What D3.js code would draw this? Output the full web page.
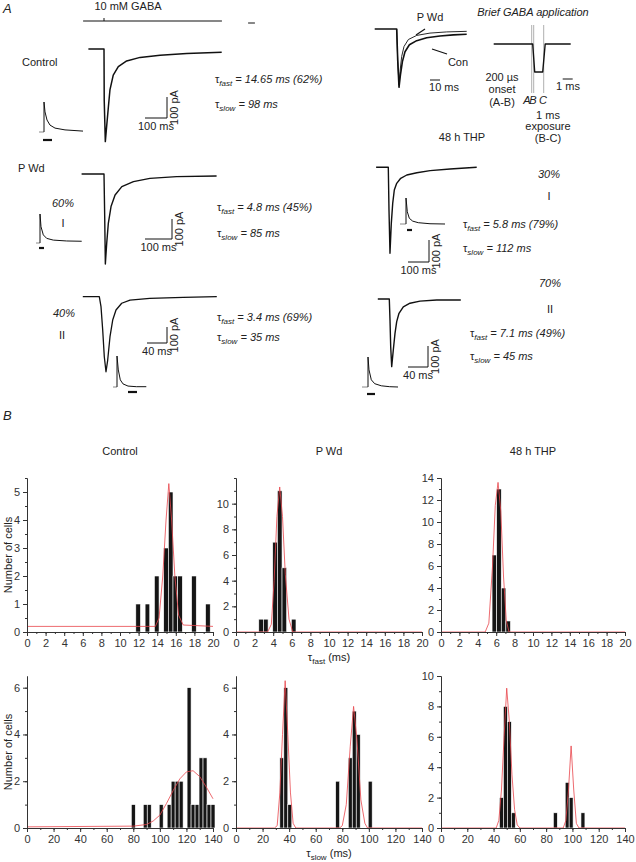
<!DOCTYPE html>
<html>
<head>
<meta charset="utf-8">
<script src="https://cdn.jsdelivr.net/npm/d3@7"></script>
<style>
body { margin: 0; background: #fff; }
text { font-family: "Liberation Sans", Arial, sans-serif; fill: #222; }
</style>
</head>
<body>
<div id="fig"></div>
<script>
// ---------- data: panel A (time ms, current pA) ----------
var conTrace   = [[-71,0],[0,0],[1,-243],[6,-441],[12,-369],[20,-275],[27,-195],[42,-124],[65,-84],[103,-57],[164,-40],[255,-30],[376,-22],[535,-16]];
var pwd1Trace  = [[-83,0],[0,0],[2.6,-213],[5,-450],[10,-347],[16,-247],[26,-163],[41,-105],[66,-63],[109,-38],[170,-22],[269,-13],[417,-10]];
var pwd2Trace  = [[-33,0],[0,0],[3.4,-62],[6.8,-208],[10,-375],[13.4,-469],[16.8,-396],[21.4,-250],[26.8,-146],[33.4,-83],[44.8,-41],[61.4,-21],[101,-11],[168,-4],[235,0]];
var thp1Trace  = [[-58,0],[0,0],[3.3,-194],[8,-391],[14.3,-255],[21,-164],[28.6,-103],[40,-73],[59,-50],[88,-35],[136,-25],[199,-15],[294,-8],[421,0]];
var thp2Trace  = [[-23,0],[0,0],[1.4,-100],[2.8,-227],[4.8,-322],[8,-243],[11.4,-164],[14.8,-108],[19.4,-68],[28,-37],[41.4,-20],[61.4,-10],[94.8,-5],[143,-5]];
// normalised overlay (Con vs P Wd), time ms
var overlayCon = [[-22,0],[0,0],[1,-0.53],[2.3,-1],[3.7,-0.79],[5.7,-0.56],[8.3,-0.39],[12.7,-0.27],[20,-0.2],[30,-0.15],[43.3,-0.12],[56.7,-0.1],[70,-0.09]];
var overlayPwd = [[0,0],[1,-0.53],[2.3,-0.96],[3.3,-0.73],[5,-0.47],[7.3,-0.3],[11.7,-0.18],[20,-0.11],[33.3,-0.07],[50,-0.05],[70,-0.04]];
// brief GABA application pulse (ms, normalised)
var pulseTrace = [[-3.8,0],[0.1,0],[0.3,-1],[1.1,-1],[1.35,0],[3.9,0]];
var pulseMarks = [["A",0],["B",0.2],["C",1.2]];
// normalised insets (ms, fraction of peak)
var insetCon  = [[-10,0],[0,0],[0,1],[2,0.67],[6,0.4],[12,0.23],[22,0.13],[42,0.07],[78,0.03]];
var insetPwd1 = [[-8,0],[0,0],[0,1],[2,0.56],[6.6,0.28],[13.4,0.16],[26.6,0.1],[53.4,0.07],[83.4,0.06]];
var insetPwd2 = [[-8,0],[0,0],[0,1],[2.6,0.55],[6.6,0.23],[12,0.1],[22,0.03],[38.6,0.01],[58.6,0.01]];
var insetThp1 = [[-12,0],[0,0],[0,1],[2.6,0.47],[6.6,0.22],[13.4,0.11],[24.6,0.05],[48,0.01],[78,0]];
var insetThp2 = [[-12,0],[0,0],[0,1],[2,0.57],[6.6,0.24],[13.4,0.11],[26.6,0.04],[43.4,0.01],[60,0]];

// ---------- data: panel B histograms ----------
var fastTicks = [0,2,4,6,8,10,12,14,16,18,20];
var slowTicks = [0,20,40,60,80,100,120,140];
var ctlFastBins = [11.7,12.7,13.7,14.7,15.2,15.7,16.2,17.7,19.2];
var ctlFastCounts = [1,1,2,3,5,2,2,2,1];
var pwdFastBins = [2.45,2.95,3.95,4.45,4.95,5.95];
var pwdFastCounts = [1,1,7,11,5,1];
var thpFastBins = [5.55,6.05,6.55,7.05];
var thpFastCounts = [7,13,4,1];
var ctlSlowBins = [78.5,87.5,90.5,99.5,105.5,108.5,111.5,114.5,120.5,123.5,126.5,129.5,132.5,135.5,138.5];
var ctlSlowCounts = [1,1,1,1,1,2,2,2,6,1,1,3,3,1,1];
var pwdSlowBins = [33,36,39,75,84.5,87.5,90.5,99.5];
var pwdSlowCounts = [3,6,1,2,3,5,4,2];
var thpSlowBins = [44.5,47.5,50.5,53.5,85.5,94.5,97.5,106.5];
var thpSlowCounts = [2,8,7,1,1,3,2,1];
// gaussian fits
var ctlFastFit = [[0,0.2],[13.8,0.2],[14.2,0.5],[14.6,2],[14.95,4],[15.25,5.3],[15.55,4],[15.9,2],[16.3,0.6],[16.8,0.25],[20,0.2]];
var pwdFastFit = [[0,0],[3.4,0],[3.8,0.6],[4.1,4],[4.4,9],[4.7,11.3],[5,9],[5.3,4.5],[5.7,1],[6.1,0],[20,0]];
var thpFastFit = [[0,0],[4.8,0],[5.2,0.8],[5.6,6],[5.9,11.5],[6.2,13.6],[6.5,11],[6.8,5],[7.1,1],[7.4,0],[20,0]];
var ctlSlowFit = [[0,0.05],[80,0.08],[90,0.15],[95,0.3],[100,0.55],[105,1.05],[110,1.6],[115,2.1],[120,2.4],[125,2.45],[130,2.2],[135,1.75],[140,1.25]];
var pwdSlowFit = [[0,0],[29,0],[31,0.1],[33,1.5],[35,4],[37,6.3],[39,4],[41,1.5],[43,0.2],[45,0],[78,0],[80,0.1],[83,1],[86,3.5],[88.5,5.2],[91,3.8],[94,1.2],[97,0.2],[99,0],[140,0]];
var thpSlowFit = [[0,0],[42,0],[44,0.5],[46,2.5],[48,6],[50,9.2],[52,7],[54,3.5],[56,1.2],[58,0.2],[60,0],[93,0],[95,0.5],[97,2.5],[99,5.4],[101,2.5],[103,0.3],[105,0],[140,0]];

// ---------- svg ----------
var W = 636, H = 862;
var svg = d3.select("#fig").append("svg").attr("width", W).attr("height", H);
svg.append("rect").attr("width", W).attr("height", H).attr("fill", "#fff");

function lin(o, k) { return d3.scaleLinear().domain([0, 1]).range([o, o + k]); }

function label(x, y, str, opts) {
  opts = opts || {};
  var t = svg.append("text").attr("x", x).attr("y", y)
    .attr("font-size", opts.size || 11)
    .attr("text-anchor", opts.anchor || "start")
    .text(str);
  if (opts.italic) t.attr("font-style", "italic");
  return t;
}

function tauText(x, y, sub, rest) {
  var t = svg.append("text").attr("x", x).attr("y", y).attr("font-size", 11);
  t.append("tspan").text("\u03c4");
  t.append("tspan").attr("font-size", 8).attr("font-style", "italic").attr("dy", 3).text(sub);
  t.append("tspan").attr("font-style", "italic").attr("dy", -3).text(" = " + rest);
}

function drawLine(data, sx, sy, w, col) {
  svg.append("path").datum(data)
    .attr("fill", "none").attr("stroke", col || "#111").attr("stroke-width", w || 1.4)
    .attr("stroke-linejoin", "round")
    .attr("d", d3.line().x(function(d){ return sx(d[0]); }).y(function(d){ return sy(d[1]); }));
}

// scale bar: corner at (cx, cy), ms horizontal to the left, pA vertical upward
function scaleBar(sx, sy, cx, cy, ms, pA, msLabel) {
  var lx = sx(ms) - sx(0), ly = sy(0) - sy(pA);
  svg.append("path").attr("fill", "none").attr("stroke", "#111").attr("stroke-width", 1)
    .attr("d", "M" + (cx - lx) + "," + cy + "H" + cx + "V" + (cy - ly));
  label(cx - lx / 2, cy + 12, msLabel, {anchor: "middle"});
  svg.append("text").attr("transform", "translate(" + (cx + 11) + "," + (cy - ly / 2) + ") rotate(-90)")
    .attr("text-anchor", "middle").attr("font-size", 11).text(pA + " pA");
}

function inset(data, x0, y0, h, barStart, barLen, barY) {
  var sx = lin(x0, 0.5), sy = d3.scaleLinear().domain([0, 1]).range([y0, y0 - h]);
  drawLine(data.slice(0, 2), sx, sy, 1, "#888");
  drawLine(data.slice(1), sx, sy, 1, "#111");
  svg.append("line").attr("x1", sx(barStart)).attr("x2", sx(barStart + barLen))
    .attr("y1", barY).attr("y2", barY).attr("stroke", "#111").attr("stroke-width", 2.2);
}

// ---------- panel A ----------
label(3, 13, "A", {italic: true, size: 13});
label(128, 10, "10 mM GABA", {anchor: "middle"});

// control
var cx = lin(104, 0.22), cy = d3.scaleLinear().domain([0, 1]).range([49, 48.79]);
svg.append("line").attr("x1", cx(-95)).attr("x2", cx(536)).attr("y1", 21).attr("y2", 21).attr("stroke", "#111").attr("stroke-width", 1.2);
svg.append("line").attr("x1", cx(0)).attr("x2", cx(0)).attr("y1", 18).attr("y2", 21).attr("stroke", "#111").attr("stroke-width", 1);
svg.append("line").attr("x1", cx(655)).attr("x2", cx(686)).attr("y1", 23).attr("y2", 23).attr("stroke", "#111").attr("stroke-width", 1);
drawLine(conTrace, cx, cy, 1.5);
label(22, 66, "Control");
inset(insetCon, 44, 132, 30, -2, 18, 140);
scaleBar(cx, cy, 167, 118, 100, 100, "100 ms");
tauText(215, 83, "fast", "14.65 ms (62%)");
tauText(215, 108, "slow", "98 ms");

// P Wd I
var p1x = lin(104, 0.27), p1y = d3.scaleLinear().domain([0, 1]).range([174, 173.8]);
drawLine(pwd1Trace, p1x, p1y, 1.4);
label(18, 172, "P Wd");
label(63, 207, "60%", {anchor: "middle", italic: true});
label(63, 227, "I", {anchor: "middle"});
inset(insetPwd1, 40, 243, 29, -2, 10, 248);
scaleBar(p1x, p1y, 172, 239, 100, 100, "100 ms");
tauText(217, 211, "fast", "4.8 ms (45%)");
tauText(217, 237, "slow", "85 ms");

// P Wd II
var p2x = lin(99.3, 0.5), p2y = d3.scaleLinear().domain([0, 1]).range([296.7, 296.54]);
drawLine(pwd2Trace, p2x, p2y, 1.3);
label(64, 317, "40%", {anchor: "middle", italic: true});
label(62, 339, "II", {anchor: "middle"});
inset(insetPwd2, 117, 387, 31, 22, 18, 392);
scaleBar(p2x, p2y, 167, 343, 40, 100, "40 ms");
tauText(217, 321, "fast", "3.4 ms (69%)");
tauText(217, 341, "slow", "35 ms");

// overlay Con vs P Wd
var ox = lin(396.7, 1), oy = d3.scaleLinear().domain([0, 1]).range([29, -29.3]);
drawLine(overlayCon, ox, oy, 1.6);
drawLine(overlayPwd, ox, oy, 0.9);
label(430, 21, "P Wd", {anchor: "middle"});
svg.append("line").attr("x1", 416).attr("y1", 35).attr("x2", 425).attr("y2", 29).attr("stroke", "#111").attr("stroke-width", 1.2);
label(458, 66, "Con", {anchor: "middle"});
svg.append("line").attr("x1", 432).attr("y1", 49).attr("x2", 447).attr("y2", 54).attr("stroke", "#111").attr("stroke-width", 1.2);
svg.append("line").attr("x1", ox(33.3)).attr("x2", ox(43.3)).attr("y1", 80).attr("y2", 80).attr("stroke", "#111").attr("stroke-width", 1);
label(444, 91, "10 ms", {anchor: "middle"});

// brief application
label(533, 16, "Brief GABA application", {anchor: "middle", italic: true});
var px = lin(531.7, 10), py = d3.scaleLinear().domain([0, 1]).range([44, 16]);
pulseMarks.forEach(function(m) {
  svg.append("line").attr("x1", px(m[1])).attr("x2", px(m[1])).attr("y1", 25).attr("y2", 93)
    .attr("stroke", "#999").attr("stroke-width", 0.8);
});
drawLine(pulseTrace, px, py, 1.4);
svg.append("line").attr("x1", px(3.1)).attr("x2", px(4.1)).attr("y1", 79).attr("y2", 79).attr("stroke", "#111").attr("stroke-width", 1);
label(568, 90, "1 ms", {anchor: "middle"});
label(502, 81, "200 \u00b5s", {anchor: "middle"});
label(502, 93, "onset", {anchor: "middle"});
label(502, 106, "(A-B)", {anchor: "middle"});
label(527, 104, "A", {anchor: "middle", italic: true});
label(533, 104, "B", {anchor: "middle", italic: true});
label(543, 104, "C", {anchor: "middle", italic: true});
label(548, 119, "1 ms", {anchor: "middle"});
label(548, 130, "exposure", {anchor: "middle"});
label(548, 142, "(B-C)", {anchor: "middle"});

// 48 h THP I
label(462, 141, "48 h THP", {anchor: "middle"});
var t1x = lin(388.3, 0.21), t1y = d3.scaleLinear().domain([0, 1]).range([167.3, 167.08]);
drawLine(thp1Trace, t1x, t1y, 1.4);
label(549, 178, "30%", {anchor: "middle", italic: true});
label(549, 200, "I", {anchor: "middle"});
inset(insetThp1, 406, 224, 26, 2, 10, 230);
scaleBar(t1x, t1y, 429, 262, 100, 100, "100 ms");
tauText(463, 228, "fast", "5.8 ms (79%)");
tauText(463, 252, "slow", "112 ms");

// 48 h THP II
var t2x = lin(389.3, 0.5), t2y = d3.scaleLinear().domain([0, 1]).range([299, 298.79]);
drawLine(thp2Trace, t2x, t2y, 1.4);
label(550, 287, "70%", {anchor: "middle", italic: true});
label(550, 313, "II", {anchor: "middle"});
inset(insetThp2, 368, 387, 30, -2, 16, 394);
scaleBar(t2x, t2y, 428, 367, 40, 100, "40 ms");
tauText(470, 337, "fast", "7.1 ms (49%)");
tauText(470, 360, "slow", "45 ms");

// ---------- panel B ----------
label(3, 420, "B", {italic: true, size: 13});

var cols = [[27, 213], [236, 422], [441, 625]];
var rows = [[478, 632], [676, 828]];
var panels = [
  {r: 0, c: 0, bins: ctlFastBins, counts: ctlFastCounts, bw: 0.5, fit: ctlFastFit, xt: fastTicks, xmax: 20, ymax: 5.5, yt: [0,1,2,3,4,5], ym: 0.5},
  {r: 0, c: 1, bins: pwdFastBins, counts: pwdFastCounts, bw: 0.5, fit: pwdFastFit, xt: fastTicks, xmax: 20, ymax: 12, yt: [0,2,4,6,8,10], ym: 1},
  {r: 0, c: 2, bins: thpFastBins, counts: thpFastCounts, bw: 0.5, fit: thpFastFit, xt: fastTicks, xmax: 20, ymax: 14, yt: [0,2,4,6,8,10,12,14], ym: 1},
  {r: 1, c: 0, bins: ctlSlowBins, counts: ctlSlowCounts, bw: 3, fit: ctlSlowFit, xt: slowTicks, xmax: 140, ymax: 6.5, yt: [0,2,4,6], ym: 1},
  {r: 1, c: 1, bins: pwdSlowBins, counts: pwdSlowCounts, bw: 3, fit: pwdSlowFit, xt: slowTicks, xmax: 140, ymax: 6.5, yt: [0,2,4,6], ym: 1},
  {r: 1, c: 2, bins: thpSlowBins, counts: thpSlowCounts, bw: 3, fit: thpSlowFit, xt: slowTicks, xmax: 140, ymax: 10, yt: [0,2,4,6,8,10], ym: 1}
];

function styleAxis(g) {
  g.attr("font-family", null).attr("font-size", null);
  g.selectAll("path,line").attr("stroke", "#333");
  g.selectAll("text").attr("font-size", 11).style("fill", "#333");
}

panels.forEach(function(p) {
  var x = d3.scaleLinear().domain([0, p.xmax]).range(cols[p.c]);
  var y = d3.scaleLinear().domain([0, p.ymax]).range([rows[p.r][1], rows[p.r][0]]);
  var g = svg.append("g");
  var step = p.xt[1] - p.xt[0];

  g.selectAll("rect").data(p.bins).enter().append("rect")
    .attr("x", function(d){ return x(d); })
    .attr("width", function(d){ return x(d + p.bw) - x(d); })
    .attr("y", function(d, i){ return y(p.counts[i]); })
    .attr("height", function(d, i){ return y(0) - y(p.counts[i]); })
    .attr("fill", "#151515").attr("stroke", "#fff").attr("stroke-width", 0.6);

  g.append("path").datum(p.fit).attr("fill", "none").attr("stroke", "#e8454b").attr("stroke-width", 0.8)
    .attr("d", d3.line().x(function(d){ return x(d[0]); }).y(function(d){ return y(d[1]); }));

  var xMinor = d3.range(0, p.xmax + 0.001, step / 2);
  var yMinor = d3.range(0, p.ymax + 0.001, p.ym);
  g.append("g").attr("transform", "translate(0," + y(0) + ")")
    .call(d3.axisBottom(x).tickValues(xMinor).tickSize(2).tickSizeOuter(0).tickFormat(""))
    .call(styleAxis);
  g.append("g").attr("transform", "translate(0," + y(0) + ")")
    .call(d3.axisBottom(x).tickValues(p.xt).tickSize(4).tickSizeOuter(0).tickFormat(d3.format("d")))
    .call(styleAxis);
  g.append("g").attr("transform", "translate(" + x(0) + ",0)")
    .call(d3.axisLeft(y).tickValues(yMinor).tickSize(2).tickSizeOuter(0).tickFormat(""))
    .call(styleAxis);
  g.append("g").attr("transform", "translate(" + x(0) + ",0)")
    .call(d3.axisLeft(y).tickValues(p.yt).tickSize(4).tickSizeOuter(0).tickFormat(d3.format("d")))
    .call(styleAxis);
});

var titles = ["Control", "P Wd", "48 h THP"];
titles.forEach(function(t, i) {
  label((cols[i][0] + cols[i][1]) / 2, 455, t, {anchor: "middle"});
});
[0, 1].forEach(function(r) {
  svg.append("text").attr("transform", "translate(12," + ((rows[r][0] + rows[r][1]) / 2) + ") rotate(-90)")
    .attr("text-anchor", "middle").attr("font-size", 11).text("Number of cells");
});
var xl = svg.append("text").attr("x", 329).attr("y", 661).attr("text-anchor", "middle").attr("font-size", 11);
xl.append("tspan").text("\u03c4");
xl.append("tspan").attr("font-size", 8).attr("dy", 3).text("fast");
xl.append("tspan").attr("dy", -3).text(" (ms)");
var xl2 = svg.append("text").attr("x", 329).attr("y", 857).attr("text-anchor", "middle").attr("font-size", 11);
xl2.append("tspan").text("\u03c4");
xl2.append("tspan").attr("font-size", 8).attr("dy", 3).text("slow");
xl2.append("tspan").attr("dy", -3).text(" (ms)");
</script>
</body>
</html>
